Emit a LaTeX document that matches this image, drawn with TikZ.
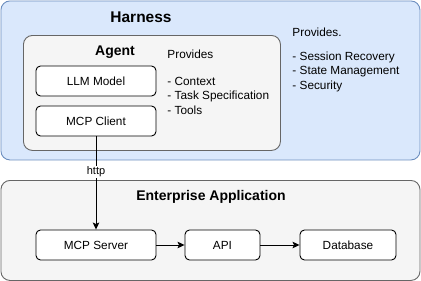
\documentclass[tikz,border=0pt]{standalone}
\usepackage{fontspec}
\setmainfont{Liberation Sans}
\usetikzlibrary{positioning}
\usetikzlibrary{arrows.meta}

\definecolor{harnessfill}{HTML}{DAE8FC}
\definecolor{harnessline}{HTML}{6C8EBF}
\definecolor{groupfill}{HTML}{F5F5F5}
\definecolor{groupline}{HTML}{666666}

\tikzset{
  box/.style={draw=black, fill=white, rounded corners=4.5pt, minimum width=120pt,
    minimum height=30pt, inner sep=0pt, font=\fontsize{11.8}{14}\selectfont},
  group/.style={draw=groupline, fill=groupfill, rounded corners=9pt, inner sep=0pt},
  title/.style={font=\bfseries\fontsize{14}{16}\selectfont, inner sep=0pt},
  note/.style={align=left, inner sep=0pt, anchor=north west,
    font=\fontsize{11.8}{14.5}\selectfont},
  flow/.style={-{Stealth[length=7pt,width=6.5pt,inset=1.5pt]}, line width=0.9pt}
}

\begin{document}
\begin{tikzpicture}[x=1pt, y=-1pt, line width=0.9pt]
	\useasboundingbox (0,0) rectangle (421,281);

	% Harness container
	\node[draw=harnessline, fill=harnessfill, rounded corners=9pt, inner sep=0pt,
		minimum width=419pt, minimum height=159pt, anchor=north west] (harness) at (0.5,0.5) {};
	\node[title, font=\bfseries\fontsize{15.5}{18}\selectfont] (harnesstitle) at (141,17) {Harness};
	\node[note] (harnessnote) at (292,27) {Provides.\\[9.5pt]- Session Recovery\\- State Management\\- Security};

	% Agent group
	\node[group, minimum width=257pt, minimum height=115pt, anchor=north west] (agent) at (23,35) {};
	\node[title] (agenttitle) at (115,52) {Agent};
	\node[note] (agentnote) at (167,49) {Provides\\[12.5pt]- Context\\- Task Specification\\- Tools};

	\node[box] (llm) at (96,81) {LLM Model};
	\node[box] (client) at (96,121) {MCP Client};

	% Enterprise application group
	\node[group, minimum width=419pt, minimum height=100pt, anchor=north west] (enterprise) at (0.5,180) {};
	\node[title] (enttitle) at (211,197) {Enterprise Application};

	\node[box] (server) at (96,245) {MCP Server};
	\node[box, minimum width=75pt] (api) at (222.5,245) {API};
	\node[box, minimum width=96pt] (db) at (348,245) {Database};

	% Connections
	\draw[flow] (client) -- node[fill=white, inner sep=1pt, pos=0.38,
		font=\fontsize{11}{13}\selectfont] (http) {http} (server);
	\draw[flow] (server) -- (api);
	\draw[flow] (api) -- (db);

\end{tikzpicture}
\end{document}
